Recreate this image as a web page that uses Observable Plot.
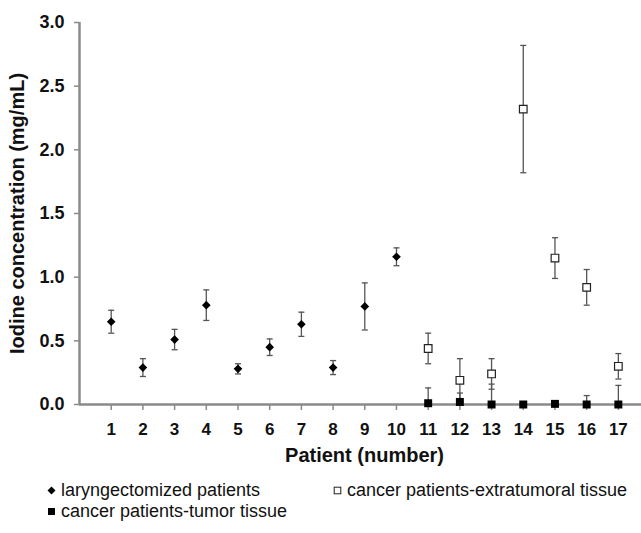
<!DOCTYPE html>
<html>
<head>
<meta charset="utf-8">
<script src="https://cdn.jsdelivr.net/npm/d3@7"></script>
<script src="https://cdn.jsdelivr.net/npm/@observablehq/plot@0.6"></script>
<style>
  body { margin: 0; background: #fff; }
  #wrap { width: 641px; font-family: "Liberation Sans", Arial, sans-serif; }
  #legend { position: relative; width: 641px; height: 63px; font-size: 18px; color: #111; }
  .item { position: absolute; white-space: nowrap; display: flex; align-items: center; }
  .item svg { margin-right: 5px; }
</style>
</head>
<body>
<div id="wrap"></div>
<script>
// ---- data ----
const patientsLaryng = [1, 2, 3, 4, 5, 6, 7, 8, 9, 10];
const laryngMean = [0.65, 0.29, 0.51, 0.78, 0.28, 0.45, 0.63, 0.29, 0.77, 1.16];
const laryngErr  = [0.09, 0.07, 0.08, 0.12, 0.04, 0.065, 0.095, 0.055, 0.185, 0.07];

const patientsCancer = [11, 12, 13, 14, 15, 16, 17];
const extraMean = [0.44, 0.19, 0.24, 2.32, 1.15, 0.92, 0.30];
const extraErr  = [0.12, 0.17, 0.12, 0.50, 0.16, 0.14, 0.10];
const tumorMean = [0.01, 0.02, 0.0, 0.0, 0.005, 0.0, 0.0];
const tumorErr  = [0.12, 0.07, 0.16, 0.0, 0.0, 0.07, 0.15];

const xTicks = [1, 2, 3, 4, 5, 6, 7, 8, 9, 10, 11, 12, 13, 14, 15, 16, 17];
const yTicks = [0, 0.5, 1.0, 1.5, 2.0, 2.5, 3.0];
const yTickLabels = ["0.0", "0.5", "1.0", "1.5", "2.0", "2.5", "3.0"];

const xTitle = "Patient (number)";
const yTitle = "Iodine concentration (mg/mL)";
const seriesNames = ["laryngectomized patients", "cancer patients-extratumoral tissue", "cancer patients-tumor tissue"];

// ---- build rows ----
function rows(xs, means, errs, series) {
  return xs.map((x, i) => ({
    x, y: means[i], series,
    lo: Math.max(0, means[i] - errs[i]),
    hi: means[i] + errs[i],
    err: errs[i]
  }));
}
const laryng = rows(patientsLaryng, laryngMean, laryngErr, seriesNames[0]);
const extra = rows(patientsCancer, extraMean, extraErr, seriesNames[1]);
const tumor = rows(patientsCancer, tumorMean, tumorErr, seriesNames[2]);
const all = [...laryng, ...extra, ...tumor].filter(d => d.err > 0);
const caps = [];
for (const d of all) {
  caps.push({x: d.x, y: d.hi});
  if (d.y - d.err >= 0) caps.push({x: d.x, y: d.lo});
}

const capSymbol = {
  draw(context, size) {
    const w = Math.sqrt(size) / 2;
    context.moveTo(-w, 0);
    context.lineTo(w, 0);
  }
};

const errColor = "#555";
const axisColor = "#8a8a8a";

const chart = Plot.plot({
  width: 641,
  height: 470,
  marginLeft: 79,
  marginRight: 0,
  marginTop: 22,
  marginBottom: 66,
  style: { fontFamily: "'Liberation Sans', Arial, sans-serif", background: "#fff", color: "#111" },
  x: { domain: [0, 17.73] },
  y: { domain: [0, 3] },
  marks: [
    Plot.axisY({
      ticks: yTicks, tickFormat: (d) => yTickLabels[yTicks.indexOf(d)],
      tickSize: 5, tickPadding: 10, fontSize: 18, fontWeight: "bold",
      stroke: axisColor, strokeWidth: 1.5, fill: "#111", label: null
    }),
    Plot.axisX({
      ticks: xTicks, tickFormat: d => String(d),
      tickSize: 6, tickPadding: 12, fontSize: 17, fontWeight: "bold",
      stroke: axisColor, strokeWidth: 1.5, fill: "#111", label: null
    }),
    Plot.ruleX([0], { y1: 0, y2: 3, stroke: axisColor, strokeWidth: 2.5 }),
    Plot.ruleY([0], { x1: 0, x2: 17.73, stroke: axisColor, strokeWidth: 2.5 }),
    Plot.ruleX(all, { x: "x", y1: "lo", y2: "hi", stroke: errColor, strokeWidth: 1.3 }),
    Plot.dot(caps, { x: "x", y: "y", symbol: capSymbol, r: 3.4, stroke: errColor, strokeWidth: 1.3, fill: "none" }),
    Plot.dot(laryng, { x: "x", y: "y", symbol: "diamond2", r: 3.9, fill: "#000", stroke: "none" }),
    Plot.dot(extra, { x: "x", y: "y", symbol: "square", r: 4.3, fill: "#fff", stroke: "#222", strokeWidth: 1.2 }),
    Plot.dot(tumor, { x: "x", y: "y", symbol: "square", r: 4.5, fill: "#000", stroke: "none" }),
    Plot.text([yTitle], { frameAnchor: "left", rotate: -90, dx: -62, fontSize: 20, fontWeight: "bold", textAnchor: "middle", lineAnchor: "middle", fill: "#111" }),
    Plot.text([xTitle], { frameAnchor: "bottom", dx: 4, dy: 51, fontSize: 20, fontWeight: "bold", textAnchor: "middle", lineAnchor: "middle", fill: "#111" })
  ]
});

const wrap = document.getElementById("wrap");
wrap.appendChild(chart);

// ---- legend ----
const legend = document.createElement("div");
legend.id = "legend";
const markerSvgs = [
  '<svg width="9" height="9" viewBox="-4.5 -4.5 9 9"><path d="M0,-4L4,0L0,4L-4,0Z" fill="#000"/></svg>',
  '<svg width="9" height="9" viewBox="-4.5 -4.5 9 9"><rect x="-3.3" y="-3.3" width="6.6" height="6.6" fill="#fff" stroke="#222" stroke-width="1"/></svg>',
  '<svg width="9" height="9" viewBox="-4.5 -4.5 9 9"><rect x="-3.5" y="-3.5" width="7" height="7" fill="#000"/></svg>'
];
const positions = [[47, 20], [333, 20], [47, 41]];
seriesNames.forEach((name, i) => {
  const it = document.createElement("div");
  it.className = "item";
  it.style.left = positions[i][0] + "px";
  it.style.top = (positions[i][1] - 11) + "px";
  it.style.height = "22px";
  it.innerHTML = markerSvgs[i] + "<span>" + name + "</span>";
  legend.appendChild(it);
});
wrap.appendChild(legend);
</script>
</body>
</html>
